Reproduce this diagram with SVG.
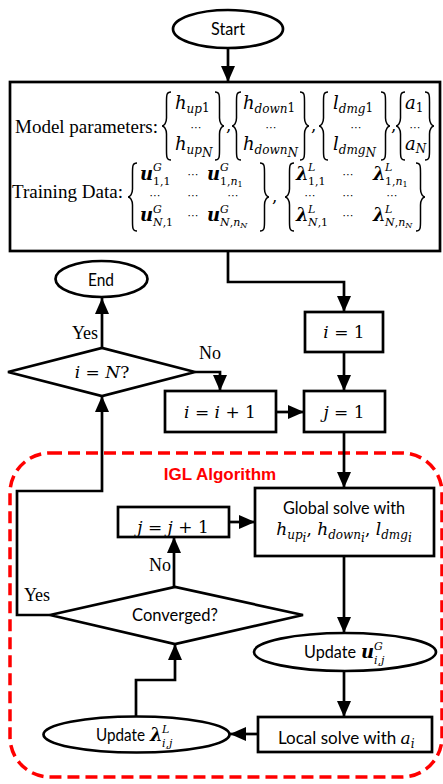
<svg xmlns="http://www.w3.org/2000/svg" xmlns:xlink="http://www.w3.org/1999/xlink" width="443" height="784" viewBox="0 0 443 784">
<style>
.box{fill:#fff;stroke:#000;stroke-width:2.7}
.br{fill:none;stroke:#000;stroke-width:1.5}
.con{fill:none;stroke:#000;stroke-width:2.7}
.t{font-family:Lato,"Liberation Sans",sans-serif;font-size:17px;fill:#000}
.l{font-family:"Liberation Serif",serif;font-size:18px;fill:#000}
.m{font-family:"DejaVu Serif",serif;font-style:italic;font-size:17px;fill:#000}
.mt{font-size:18px}
.mb{font-family:"DejaVu Serif",serif;font-style:italic;font-weight:bold;font-size:18px;fill:#000}
.s{font-size:12px}
.ss{font-family:"DejaVu Serif",serif;font-style:italic;font-size:11px;fill:#000}
.sn{font-family:"DejaVu Serif",serif;font-style:normal;font-size:11px;fill:#000}
.n{font-style:normal}
.x{font-size:8px}
.d{font-family:"DejaVu Sans",sans-serif;font-size:11px;text-anchor:middle;fill:#000}
.c{text-anchor:middle}
</style>
<defs>
<marker id="ah" markerUnits="userSpaceOnUse" markerWidth="16" markerHeight="14" viewBox="0 0 16 14" refX="16" refY="7" orient="auto">
<path d="M0 0 L16 7 L0 14 z" fill="#000"/>
</marker>
<path id="lb" d="M9 0 C4.5 0 4.5 3 4.5 10 L4.5 26 C4.5 31 2 34 0 34 C2 34 4.5 37 4.5 42 L4.5 58 C4.5 65 4.5 68 9 68"/>
<path id="rb" d="M0 0 C4.5 0 4.5 3 4.5 10 L4.5 26 C4.5 31 7 34 9 34 C7 34 4.5 37 4.5 42 L4.5 58 C4.5 65 4.5 68 0 68"/>
</defs>
<rect id="igl-frame" x="10" y="453" width="432" height="324" rx="40" ry="40" fill="none" stroke="#ff0000" stroke-width="3.5" stroke-dasharray="12 6"/>
<text x="220" y="480" class="c" font-family="'Liberation Sans',Arial,sans-serif" font-weight="bold" font-size="17" fill="#ff0000">IGL Algorithm</text>
<g id="connectors" class="con" marker-end="url(#ah)">
<path d="M228 48 V82"/>
<path d="M228 251 V282 H344 V312"/>
<path d="M344 352 V391"/>
<path d="M276 412 H304"/>
<path d="M195 372 H220 V391"/>
<path d="M102 348 V298"/>
<path d="M344 432 V488"/>
<path d="M50 615 H17 V491 H102 V396"/>
<path d="M229 522 H255"/>
<path d="M174 587 V537"/>
<path d="M344 556 V633"/>
<path d="M344 671 V717"/>
<path d="M258 734 H230"/>
<path d="M136 717 V680 H175 V644"/>
</g>
<g id="labels">
<text class="l" x="85" y="339" text-anchor="middle" font-size="17">Yes</text>
<text class="l" x="210" y="359" text-anchor="middle" font-size="17">No</text>
<text class="l" x="160" y="571" text-anchor="middle" font-size="17">No</text>
<text class="l" x="37" y="601" text-anchor="middle" font-size="17">Yes</text>
</g>
<g id="start">
<ellipse class="box" cx="228" cy="29" rx="55" ry="19"/>
<text class="t" x="211" y="35" textLength="34" lengthAdjust="spacingAndGlyphs">Start</text>
</g>
<g id="params">
<rect class="box" x="10" y="82" width="430" height="169"/>
<text class="l" x="15" y="133" textLength="143" lengthAdjust="spacingAndGlyphs">Model parameters:</text>
<use href="#lb" class="br" x="162" y="92"/>
<text class="m mt" x="175" y="109">h<tspan class="s" dy="4">up</tspan><tspan class="s n" dy="-1">1</tspan></text>
<text class="d" x="196" y="131">⋯</text>
<text class="m mt" x="175" y="150">h<tspan class="s" dy="4">up</tspan><tspan class="s" dy="3">N</tspan></text>
<use href="#rb" class="br" x="215" y="92"/>
<text class="m n" x="226" y="131">,</text>
<use href="#lb" class="br" x="232" y="92"/>
<text class="m mt" x="243" y="109">h<tspan class="s" dy="4">down</tspan><tspan class="s n" dy="-1">1</tspan></text>
<text class="d" x="271" y="131">⋯</text>
<text class="m mt" x="243" y="150">h<tspan class="s" dy="4">down</tspan><tspan class="s" dy="3">N</tspan></text>
<use href="#rb" class="br" x="300" y="92"/>
<text class="m n" x="311" y="131">,</text>
<use href="#lb" class="br" x="319" y="92"/>
<text class="m mt" x="333" y="109">l<tspan class="s" dy="4">dmg</tspan><tspan class="s n" dy="-1">1</tspan></text>
<text class="d" x="356" y="131">⋯</text>
<text class="m mt" x="333" y="150">l<tspan class="s" dy="4">dmg</tspan><tspan class="s" dy="3">N</tspan></text>
<use href="#rb" class="br" x="381" y="92"/>
<text class="m n" x="391" y="131">,</text>
<use href="#lb" class="br" x="396" y="92"/>
<text class="m mt" x="405" y="109">a<tspan class="s n" dy="3">1</tspan></text>
<text class="d" x="415" y="131">⋯</text>
<text class="m mt" x="405" y="150">a<tspan class="s" dy="3">N</tspan></text>
<use href="#rb" class="br" x="425" y="92"/>
<text class="l" x="12" y="198" textLength="111" lengthAdjust="spacingAndGlyphs">Training Data:</text>
<use href="#lb" class="br" x="128" y="163"/>
<text class="mb" x="140" y="180">u</text><text class="ss" x="153" y="171">G</text><text class="sn" x="153" y="185">1,1</text>
<text class="d" x="193" y="178">⋯</text>
<text class="mb" x="207" y="180">u</text><text class="ss" x="220" y="171">G</text><text class="sn" x="220" y="185">1,<tspan class="ss">n</tspan><tspan class="x" dy="2">1</tspan></text>
<text class="d" x="155" y="199">⋯</text>
<text class="d" x="193" y="199">⋯</text>
<text class="d" x="233" y="199">⋯</text>
<text class="mb" x="140" y="221">u</text><text class="ss" x="153" y="213">G</text><text class="sn" x="153" y="226"><tspan class="ss">N</tspan>,1</text>
<text class="d" x="193" y="219">⋯</text>
<text class="mb" x="207" y="221">u</text><text class="ss" x="220" y="213">G</text><text class="sn" x="220" y="226"><tspan class="ss">N</tspan>,<tspan class="ss">n</tspan><tspan class="ss x" dy="2">N</tspan></text>
<use href="#rb" class="br" x="260" y="163"/>
<text class="m n" x="272" y="202">,</text>
<use href="#lb" class="br" x="285" y="163"/>
<text class="mb" x="296" y="180">λ</text><text class="ss" x="308" y="171">L</text><text class="sn" x="308" y="185">1,1</text>
<text class="d" x="348" y="178">⋯</text>
<text class="mb" x="373" y="180">λ</text><text class="ss" x="385" y="171">L</text><text class="sn" x="385" y="185">1,<tspan class="ss">n</tspan><tspan class="x" dy="2">1</tspan></text>
<text class="d" x="310" y="199">⋯</text>
<text class="d" x="348" y="199">⋯</text>
<text class="d" x="392" y="199">⋯</text>
<text class="mb" x="296" y="221">λ</text><text class="ss" x="308" y="213">L</text><text class="sn" x="308" y="226"><tspan class="ss">N</tspan>,1</text>
<text class="d" x="348" y="219">⋯</text>
<text class="mb" x="373" y="221">λ</text><text class="ss" x="385" y="213">L</text><text class="sn" x="385" y="226"><tspan class="ss">N</tspan>,<tspan class="ss">n</tspan><tspan class="ss x" dy="2">N</tspan></text>
<use href="#rb" class="br" x="416" y="163"/>
</g>
<g id="init-i">
<rect class="box" x="305" y="312" width="78" height="40"/>
<text class="m c" x="344" y="338">i<tspan class="n"> = 1</tspan></text>
</g>
<g id="end">
<ellipse class="box" cx="101.5" cy="279" rx="46" ry="18"/>
<text class="t" x="88" y="286" textLength="26" lengthAdjust="spacingAndGlyphs">End</text>
</g>
<g id="check-i">
<polygon class="box" points="8,372 102,348 195,372 102,396"/>
<text class="m c" x="102" y="378">i<tspan class="n"> = </tspan>N<tspan class="n">?</tspan></text>
</g>
<g id="inc-i">
<rect class="box" x="165" y="391" width="111" height="41"/>
<text class="m c" x="220" y="418">i<tspan class="n"> = </tspan>i<tspan class="n"> + 1</tspan></text>
</g>
<g id="init-j">
<rect class="box" x="304" y="391" width="81" height="41"/>
<text class="m c" x="344" y="418">j<tspan class="n"> = 1</tspan></text>
</g>
<g id="global-solve">
<rect class="box" x="255" y="488" width="179" height="68"/>
<text class="t" x="283" y="514" textLength="122" lengthAdjust="spacingAndGlyphs">Global solve with</text>
<text class="m c" x="344" y="535">h<tspan class="s" dy="4">up</tspan><tspan class="s" dy="3">i</tspan><tspan class="n" dy="-7">, </tspan>h<tspan class="s" dy="4">down</tspan><tspan class="s" dy="3">i</tspan><tspan class="n" dy="-7">, </tspan>l<tspan class="s" dy="4">dmg</tspan><tspan class="s" dy="3">i</tspan></text>
</g>
<g id="inc-j">
<rect class="box" x="118" y="507" width="111" height="30"/>
<text class="m c" x="173" y="533">j<tspan class="n"> = </tspan>j<tspan class="n"> + 1</tspan></text>
</g>
<g id="converged">
<polygon class="box" points="50,615 175,587 303,615 175,644"/>
<text class="t" x="132" y="621" textLength="86" lengthAdjust="spacingAndGlyphs">Converged?</text>
</g>
<g id="update-u">
<ellipse class="box" cx="345" cy="652" rx="91" ry="19"/>
<text class="t" x="304" y="658" textLength="52" lengthAdjust="spacingAndGlyphs">Update</text>
<text class="mb" x="361" y="658">u</text><text class="ss" x="374" y="650">G</text><text class="ss" x="374" y="664">i,j</text>
</g>
<g id="local-solve">
<rect class="box" x="258" y="717" width="174" height="35"/>
<text class="t" x="278" y="744" font-size="16.5">Local solve with <tspan class="m">a</tspan><tspan class="m s" dy="4">i</tspan></text>
</g>
<g id="update-lambda">
<ellipse class="box" cx="136.5" cy="734.5" rx="93" ry="18"/>
<text class="t" x="96" y="741" textLength="49" lengthAdjust="spacingAndGlyphs">Update</text>
<text class="mb" x="150" y="741">λ</text><text class="ss" x="162" y="733">L</text><text class="ss" x="162" y="747">i,j</text>
</g>
</svg>
